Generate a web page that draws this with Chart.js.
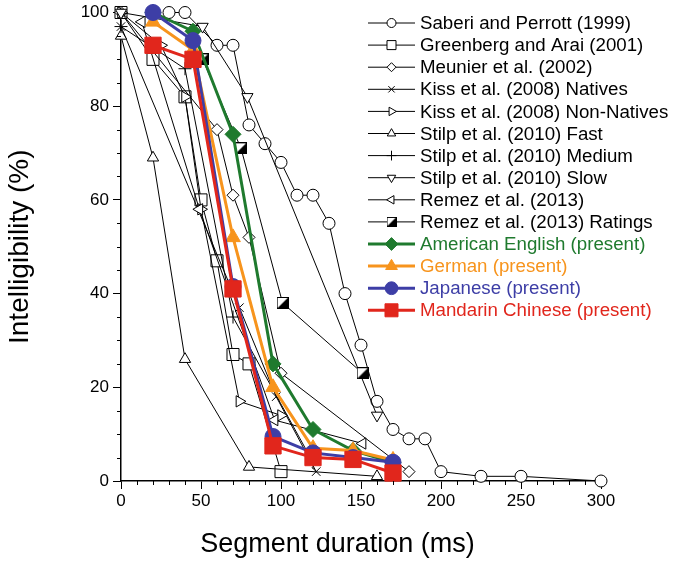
<!DOCTYPE html>
<html>
<head>
<meta charset="utf-8">
<script src="https://cdn.jsdelivr.net/npm/chart.js"></script>
<style>
  html, body { margin: 0; padding: 0; background: #fff; }
  #wrap { width: 675px; height: 566px; position: relative; }
</style>
</head>
<body>
<div id="wrap"><canvas id="chart" width="675" height="566"></canvas></div>
<script>
// Segment duration (ms) and intelligibility (%)
const saberiX = [30, 40, 60, 70, 80, 90, 100, 110, 120, 130, 140, 150, 160, 170, 180, 190, 200, 225, 250, 300];
const saberiY = [100, 100, 93, 93, 76, 72, 68, 61, 61, 55, 40, 29, 17, 11, 9, 9, 2, 1, 1, 0];
const greenbergX = [0, 20, 40, 50, 60, 70, 80, 100];
const greenbergY = [100, 90, 82, 60, 47, 27, 25, 2];
const meunierX = [0, 60, 70, 80, 100, 180];
const meunierY = [100, 75, 61, 52, 23, 2];
const kissNatX = [0, 74, 97, 122];
const kissNatY = [97, 37, 18, 2];
const kissNonX = [0, 25, 40, 50, 74, 100];
const kissNonY = [100, 93, 82, 58, 17, 14];
const stilpFastX = [0, 20, 40, 80, 160];
const stilpFastY = [95, 69, 26, 3, 1];
const stilpMedX = [0, 40, 70, 120];
const stilpMedY = [97, 88, 35, 4];
const stilpSlowX = [0, 51, 79, 160];
const stilpSlowY = [100, 97, 82, 14];
const remezX = [13, 49, 96, 151];
const remezY = [98, 58, 13, 8];
const remezRatX = [51, 75, 101, 151];
const remezRatY = [90, 71, 38, 23];

const presentX = [20, 45, 70, 95, 120, 145, 170];
const englishY = [100, 96, 74, 25, 11, 6.5, 4];
const germanY = [98, 92, 52, 20, 7, 6.5, 4.5];
const japaneseY = [100, 94, 41.5, 9.5, 6, 5, 4];
const mandarinY = [93, 90, 41, 7.5, 5, 4.6, 1.7];

const xTicks = [0, 50, 100, 150, 200, 250, 300];
const yTicks = [0, 20, 40, 60, 80, 100];

const FONT = '"Liberation Sans", Arial, Helvetica, sans-serif';
const GREEN = '#1f7a2e', ORANGE = '#f7941d', BLUE = '#3d3ea6', RED = '#e1261c';

// half filled square marker for the ratings series
function halfSquare(size) {
  const c = document.createElement('canvas');
  c.width = size; c.height = size;
  const g = c.getContext('2d');
  g.fillStyle = '#fff';
  g.fillRect(0.5, 0.5, size - 1, size - 1);
  g.fillStyle = '#000';
  g.beginPath();
  g.moveTo(size - 0.5, 0.5);
  g.lineTo(size - 0.5, size - 0.5);
  g.lineTo(0.5, size - 0.5);
  g.closePath();
  g.fill();
  g.strokeStyle = '#000';
  g.lineWidth = 1;
  g.strokeRect(0.5, 0.5, size - 1, size - 1);
  return c;
}

function pts(xs, ys) { return xs.map((x, i) => ({ x: x, y: ys[i] })); }

function oldSeries(label, xs, ys, style, radius, rotation, legendStyle) {
  return {
    label: label, data: pts(xs, ys),
    borderColor: '#000', borderWidth: 1,
    pointStyle: style, pointRadius: radius, pointRotation: rotation || 0,
    pointBackgroundColor: '#fff', pointBorderColor: '#000', pointBorderWidth: 1,
    legend: { color: '#000', width: 1, style: legendStyle || style, radius: radius * 0.75, fill: '#fff' }
  };
}
function newSeries(label, ys, color, style, radius) {
  return {
    label: label, data: pts(presentX, ys),
    borderColor: color, borderWidth: 3,
    pointStyle: style, pointRadius: radius,
    pointBackgroundColor: color, pointBorderColor: color, pointBorderWidth: 1,
    legend: { color: color, width: 3, style: style, radius: radius * 0.8, fill: color }
  };
}

const datasets = [
  oldSeries('Saberi and Perrott (1999)', saberiX, saberiY, 'circle', 6),
  oldSeries('Greenberg and Arai (2001)', greenbergX, greenbergY, 'rect', 8.5),
  oldSeries('Meunier et al. (2002)', meunierX, meunierY, 'rectRot', 6),
  oldSeries('Kiss et al. (2008) Natives', kissNatX, kissNatY, 'crossRot', 6),
  oldSeries('Kiss et al. (2008) Non-Natives', kissNonX, kissNonY, 'triangle', 6.5, 90),
  oldSeries('Stilp et al. (2010) Fast', stilpFastX, stilpFastY, 'triangle', 6.5),
  oldSeries('Stilp et al. (2010) Medium', stilpMedX, stilpMedY, 'cross', 6.5),
  oldSeries('Stilp et al. (2010) Slow', stilpSlowX, stilpSlowY, 'triangle', 6.5, 180),
  oldSeries('Remez et al. (2013)', remezX, remezY, 'triangle', 6.5, -90),
  oldSeries('Remez et al. (2013) Ratings', remezRatX, remezRatY, halfSquare(12), 6, 0, halfSquare(10)),
  newSeries('American English (present)', englishY, GREEN, 'rectRot', 8),
  newSeries('German (present)', germanY, ORANGE, 'triangle', 8.5),
  newSeries('Japanese (present)', japaneseY, BLUE, 'circle', 8),
  newSeries('Mandarin Chinese (present)', mandarinY, RED, 'rect', 11.5)
];
datasets.forEach((d, i) => {
  d.type = 'line';
  d.tension = 0;
  d.fill = false;
  d.clip = false;
  d.order = datasets.length - i; // later series drawn on top
  d.pointHoverRadius = d.pointRadius;
});

// minor ticks outside the axes, plus the x title centred on the page
const axisExtras = {
  id: 'axisExtras',
  afterDraw(chart) {
    const ctx = chart.ctx, xs = chart.scales.x, ys = chart.scales.y;
    const a = chart.chartArea;
    ctx.save();
    ctx.strokeStyle = '#000';
    ctx.lineWidth = 1;
    ctx.beginPath();
    for (let v = 0; v <= 300; v += 10) {
      if (v % 50 === 0) continue;
      const px = Math.round(xs.getPixelForValue(v)) + 0.5;
      ctx.moveTo(px, a.bottom);
      ctx.lineTo(px, a.bottom + 4);
    }
    for (let v = 0; v <= 100; v += 5) {
      if (v % 20 === 0) continue;
      const py = Math.round(ys.getPixelForValue(v)) + 0.5;
      ctx.moveTo(a.left, py);
      ctx.lineTo(a.left - 4, py);
    }
    ctx.stroke();
    ctx.fillStyle = '#000';
    ctx.font = '27px ' + FONT;
    ctx.textAlign = 'center';
    ctx.textBaseline = 'middle';
    ctx.fillText('Segment duration (ms)', chart.width / 2, 545);
    ctx.restore();
  }
};

// legend drawn in the upper right, partly outside the plot
const sideLegend = {
  id: 'sideLegend',
  afterDraw(chart) {
    const ctx = chart.ctx;
    const x0 = 368, x1 = 415, tx = 420, y0 = 23, step = 22.1;
    ctx.save();
    ctx.font = '18.7px ' + FONT;
    ctx.textBaseline = 'middle';
    ctx.textAlign = 'left';
    chart.data.datasets.forEach((d, i) => {
      const lg = d.legend, y = y0 + i * step;
      ctx.strokeStyle = lg.color;
      ctx.lineWidth = lg.width;
      ctx.beginPath();
      ctx.moveTo(x0, y);
      ctx.lineTo(x1, y);
      ctx.stroke();
      ctx.fillStyle = lg.fill;
      ctx.strokeStyle = lg.color;
      ctx.lineWidth = 1;
      Chart.helpers.drawPoint(ctx, {
        pointStyle: lg.style, radius: lg.radius,
        rotation: d.pointRotation || 0, borderWidth: 1
      }, (x0 + x1) / 2, y);
      ctx.fillStyle = lg.color;
      ctx.fillText(d.label, tx, y + 1);
    });
    ctx.restore();
  }
};

new Chart(document.getElementById('chart').getContext('2d'), {
  type: 'line',
  data: { datasets: datasets },
  plugins: [axisExtras, sideLegend],
  options: {
    responsive: false,
    devicePixelRatio: 1,
    animation: false,
    events: [],
    layout: { padding: { left: 0, right: 74, top: 0, bottom: 0 } },
    plugins: { legend: { display: false }, tooltip: { enabled: false } },
    scales: {
      x: {
        type: 'linear', position: 'bottom', min: 0, max: 300,
        afterBuildTicks: s => { s.ticks = xTicks.map(v => ({ value: v })); },
        afterFit: s => { s.height = 85; },
        ticks: { font: { family: FONT, size: 17 }, color: '#000', padding: 2, maxRotation: 0 },
        grid: { drawOnChartArea: false, tickLength: 8, tickColor: '#000', tickWidth: 1 },
        border: { display: true, color: '#000', width: 1.5 },
        title: { display: false }
      },
      y: {
        type: 'linear', position: 'left', min: 0, max: 100,
        afterBuildTicks: s => { s.ticks = yTicks.map(v => ({ value: v })); },
        afterFit: s => { s.width = 121; s.paddingTop = 7; s.paddingBottom = 0; },
        ticks: { font: { family: FONT, size: 17 }, color: '#000', padding: 4 },
        grid: { drawOnChartArea: false, tickLength: 8, tickColor: '#000', tickWidth: 1 },
        border: { display: true, color: '#000', width: 1.5 },
        title: { display: true, text: 'Intelligibility (%)', color: '#000',
                 font: { family: FONT, size: 28 }, padding: { top: 3, bottom: 0 } }
      }
    }
  }
});
</script>
</body>
</html>
